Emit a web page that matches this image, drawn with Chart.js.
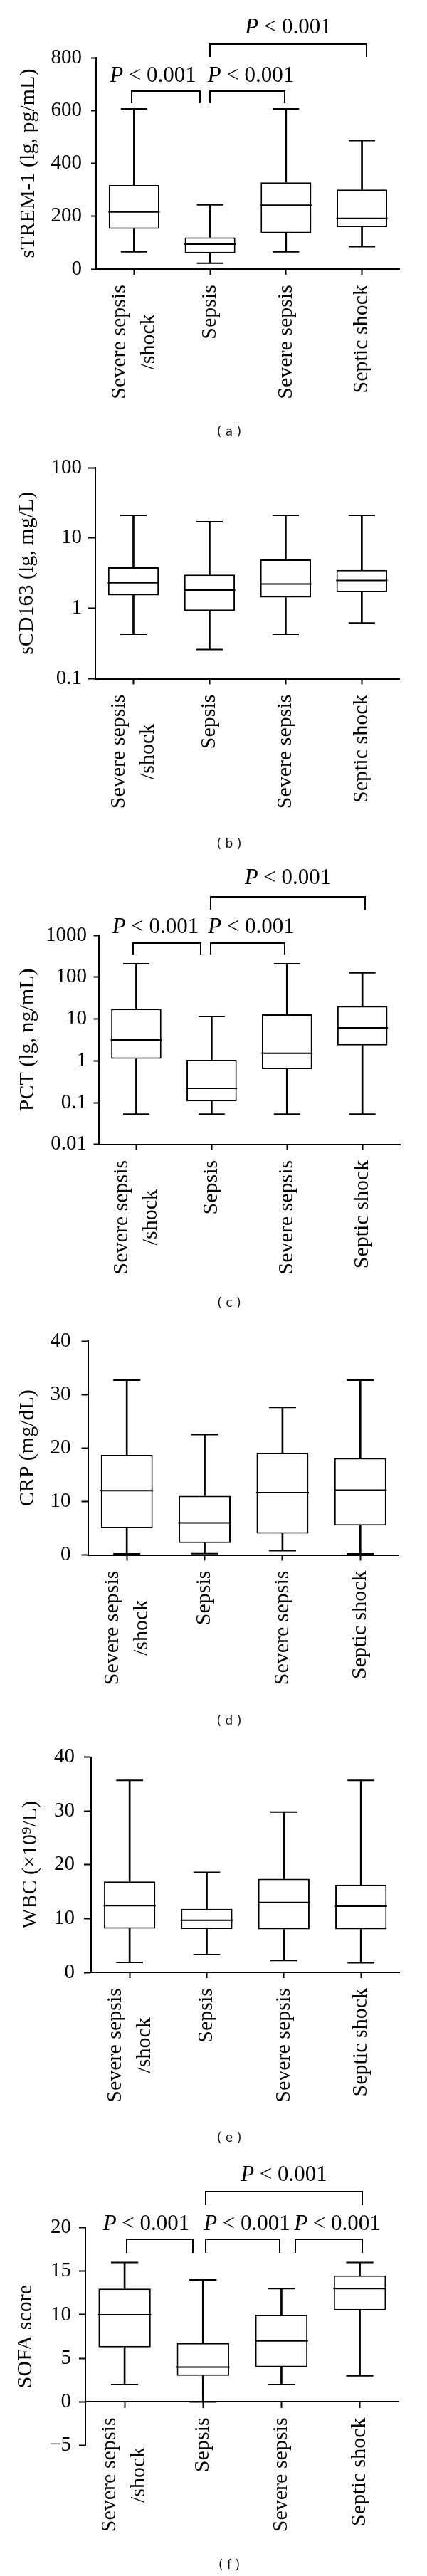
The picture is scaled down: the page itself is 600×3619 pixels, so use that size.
<!DOCTYPE html>
<html><head><meta charset="utf-8">
<script src="https://cdn.jsdelivr.net/npm/chart.js@4/dist/chart.umd.min.js"></script>
<style>
html,body{margin:0;padding:0;background:#fff;}
#page{position:relative;width:600px;height:3619px;overflow:hidden;background:#fff;}
.cap{position:absolute;left:0;text-align:center;font-family:"DejaVu Sans",sans-serif;font-size:17px;color:#111;line-height:20px;white-space:pre;}
</style></head><body><div id="page"></div>
<script>
// ---------------- DATA ----------------
const categories = [["Severe sepsis", "/shock"], "Sepsis", "Severe sepsis", "Septic shock"];
const pLabel = "P < 0.001";

// (a) sTREM-1
const stremMin    = [65, 22, 65, 85];
const stremQ1     = [152, 60, 136, 159];
const stremMedian = [216, 94, 242, 192];
const stremQ3     = [318, 120, 328, 301];
const stremMax    = [606, 243, 606, 486];
const stremTicks  = [0, 200, 400, 600, 800];
const stremPairs  = [[0, 1], [1, 2], [1, 3]];

// (b) sCD163
const cd163Min    = [0.43, 0.26, 0.43, 0.62];
const cd163Q1     = [1.53, 0.92, 1.42, 1.70];
const cd163Median = [2.31, 1.82, 2.22, 2.49];
const cd163Q3     = [3.83, 3.01, 4.94, 3.51];
const cd163Max    = [21, 17, 21, 21];
const cd163Ticks  = [0.1, 1, 10, 100];

// (c) PCT
const pctMin    = [0.053, 0.053, 0.053, 0.053];
const pctQ1     = [1.11, 0.107, 0.63, 2.33];
const pctMedian = [3.16, 0.22, 1.51, 6.15];
const pctQ3     = [17.5, 1.05, 12.9, 20.2];
const pctMax    = [209, 11.5, 209, 126];
const pctTicks  = [0.01, 0.1, 1, 10, 100, 1000];
const pctPairs  = [[0, 1], [1, 2], [1, 3]];

// (d) CRP
const crpMin    = [0.2, 0.24, 0.8, 0.2];
const crpQ1     = [5.0, 2.24, 4.0, 5.5];
const crpMedian = [12.0, 6.0, 11.65, 12.1];
const crpQ3     = [18.7, 11.06, 19.1, 18.1];
const crpMax    = [32.7, 22.5, 27.6, 32.7];
const crpTicks  = [0, 10, 20, 30, 40];

// (e) WBC
const wbcMin    = [1.85, 3.3, 2.2, 1.8];
const wbcQ1     = [8.15, 8.06, 8.0, 8.0];
const wbcMedian = [12.4, 9.7, 13.0, 12.3];
const wbcQ3     = [16.9, 11.8, 17.4, 16.3];
const wbcMax    = [35.7, 18.6, 29.8, 35.7];
const wbcTicks  = [0, 10, 20, 30, 40];

// (f) SOFA
const sofaMin    = [2, 0, 2, 3];
const sofaQ1     = [6.25, 3, 4, 10.5];
const sofaMedian = [10, 4, 7, 13];
const sofaQ3     = [13, 6.75, 10, 14.5];
const sofaMax    = [16, 14, 13, 16];
const sofaTicks  = [-5, 0, 5, 10, 15, 20];
const sofaPairs  = [[0, 1], [1, 2], [2, 3], [1, 3]];

// ---------------- LAYOUT / STYLE ----------------
const SERIF = '"Liberation Serif", "DejaVu Serif", serif';
const panels = [
  { caption: "( a )", capY: 606, title: "sTREM-1 (lg, pg/mL)", log: false, min: 0, max: 800, ticks: stremTicks,
    box: {min: stremMin, q1: stremQ1, med: stremMedian, q3: stremQ3, max: stremMax},
    T: 0, H: 600, L: 135, R: 580, top: 81, bottom: 378, tickLen: 7, tickPad: 13, titlePad: 22, xAxisAt: null,
    pairs: stremPairs,
    bstyle: [ {dx: [-3, -14], y: 47, leg: 64, ty: 26, tdx: -18},
              {dx: [0, -2], y: 47, leg: 64, ty: 26, tdx: 5},
              {dx: [0, 6], y: -19, leg: -1, ty: -42, tdx: 0} ] },
  { caption: "( b )", capY: 1185, title: "sCD163 (lg, mg/L)", log: true, min: 0.1, max: 100, ticks: cd163Ticks,
    box: {min: cd163Min, q1: cd163Q1, med: cd163Median, q3: cd163Q3, max: cd163Max},
    T: 600, H: 590, L: 134, R: 580, top: 657, bottom: 953.5, tickLen: 10, tickPad: 9, titlePad: 20, xAxisAt: null,
    pairs: [], bstyle: [] },
  { caption: "( c )", capY: 1830, title: "PCT (lg, ng/mL)", log: true, min: 0.01, max: 1000, ticks: pctTicks,
    box: {min: pctMin, q1: pctQ1, med: pctMedian, q3: pctQ3, max: pctMax},
    T: 1200, H: 610, L: 138.5, R: 581, top: 1314, bottom: 1607.75, tickLen: 7, tickPad: 9.5, titlePad: 21.5, xAxisAt: null,
    pairs: pctPairs,
    bstyle: [ {dx: [-4, -15], y: 10.5, leg: 27, ty: -11, tdx: -16},
              {dx: [-1.5, -3.5], y: 10.5, leg: 27, ty: -11, tdx: 5},
              {dx: [-1, 4], y: -54, leg: -36, ty: -80, tdx: 0} ] },
  { caption: "( d )", capY: 2417, title: "CRP (mg/dL)", log: false, min: 0, max: 40, ticks: crpTicks,
    box: {min: crpMin, q1: crpQ1, med: crpMedian, q3: crpQ3, max: crpMax},
    T: 1845, H: 570, L: 123.5, R: 580, top: 1880.5, bottom: 2184.5, tickLen: 9, tickPad: 15, titlePad: 21, xAxisAt: null,
    pairs: [], bstyle: [] },
  { caption: "( e )", capY: 3003, title: "WBC (\u00d710\u2079/L)", log: false, min: 0, max: 40, ticks: wbcTicks,
    box: {min: wbcMin, q1: wbcQ1, med: wbcMedian, q3: wbcQ3, max: wbcMax},
    T: 2430, H: 570, L: 128, R: 580, top: 2468.3, bottom: 2771, tickLen: 10, tickPad: 13, titlePad: 25, xAxisAt: null,
    pairs: [], bstyle: [] },
  { caption: "( f )", capY: 3603, title: "SOFA score", log: false, min: -5, max: 20, ticks: sofaTicks,
    box: {min: sofaMin, q1: sofaQ1, med: sofaMedian, q3: sofaQ3, max: sofaMax},
    T: 3015, H: 604, L: 120, R: 580, top: 3129.4, bottom: 3435.7, tickLen: 9, tickPad: 11, titlePad: 18.5, xAxisAt: 0,
    pairs: sofaPairs,
    bstyle: [ {dx: [3, -14], y: 16.6, leg: 35.6, ty: -4.4, tdx: -19},
              {dx: [3.5, -2], y: 16.6, leg: 35.6, ty: -4.4, tdx: 6},
              {dx: [20, 3], y: 16.6, leg: 35.6, ty: -4.4, tdx: 12},
              {dx: [4, 3], y: -50, leg: -31, ty: -74, tdx: 0} ] }
];
const X_TICK_H = 10, CAT_FONT = 30, CAT_GAP = 22, CAT_LINE = 41, P_FONT = 31;

Chart.defaults.font.family = SERIF;
Chart.defaults.color = '#000';

function drawP(ctx, cx, cy, text) {
  const first = text.charAt(0), rest = text.slice(1);
  ctx.font = `italic ${P_FONT}px ${SERIF}`;
  const w1 = ctx.measureText(first).width;
  ctx.font = `${P_FONT}px ${SERIF}`;
  const w2 = ctx.measureText(rest).width;
  let x = cx - (w1 + w2) / 2;
  ctx.textAlign = 'left'; ctx.textBaseline = 'middle';
  ctx.font = `italic ${P_FONT}px ${SERIF}`;
  ctx.fillText(first, x, cy);
  ctx.font = `${P_FONT}px ${SERIF}`;
  ctx.fillText(rest, x + w1, cy);
}

const annotate = {
  id: 'annotate',
  afterDraw(chart) {
    const p = chart.options.plugins.annotate.panel;
    const ctx = chart.ctx, xs = chart.scales.x, ys = chart.scales.y, ca = chart.chartArea;
    ctx.save();
    ctx.fillStyle = '#000'; ctx.strokeStyle = '#000'; ctx.lineWidth = 2;
    ctx.lineJoin = 'miter'; ctx.lineCap = 'butt';
    const axisY = p.xAxisAt === null ? ca.bottom : ys.getPixelForValue(p.xAxisAt);
    ctx.font = `${CAT_FONT}px ${SERIF}`;
    ctx.textAlign = 'center'; ctx.textBaseline = 'middle';
    categories.forEach((lab, i) => {
      const lines = Array.isArray(lab) ? lab : [lab];
      const maxW = Math.max(...lines.map(l => ctx.measureText(l).width));
      const x = xs.getPixelForValue(i);
      ctx.save();
      ctx.translate(x, axisY + CAT_GAP + maxW / 2);
      ctx.rotate(-Math.PI / 2);
      lines.forEach((l, k) => ctx.fillText(l, 0, (k - (lines.length - 1) / 2) * CAT_LINE));
      ctx.restore();
    });
    p.pairs.forEach((pair, k) => {
      const b = p.bstyle[k];
      const x1 = Math.round(xs.getPixelForValue(pair[0]) + b.dx[0]);
      const x2 = Math.round(xs.getPixelForValue(pair[1]) + b.dx[1]);
      const yh = Math.round(ca.top + b.y), yl = Math.round(ca.top + b.leg);
      ctx.beginPath();
      ctx.moveTo(x1, yl); ctx.lineTo(x1, yh); ctx.lineTo(x2, yh); ctx.lineTo(x2, yl);
      ctx.stroke();
      drawP(ctx, (x1 + x2) / 2 + b.tdx, ca.top + b.ty, pLabel);
    });
    ctx.restore();
  }
};

function makeDatasets(d, capR, medR) {
  const lower = d.q1.map((q, i) => [q, d.med[i]]);
  const upper = d.med.map((m, i) => [m, d.q3[i]]);
  const wUp = d.q3.map((q, i) => [q, d.max[i]]);
  const wDn = d.min.map((m, i) => [m, d.q1[i]]);
  const boxBase = {type: 'bar', backgroundColor: '#fff', borderColor: '#000', borderSkipped: false,
                   grouped: false, barPercentage: 2 / 3, categoryPercentage: 1};
  const whisk = {type: 'bar', backgroundColor: '#000', borderWidth: 0, barThickness: 2, grouped: false};
  const cap = {type: 'line', showLine: false, pointStyle: 'line', pointRadius: capR, pointHoverRadius: capR,
               borderColor: '#000', pointBorderColor: '#000', borderWidth: 2, pointBorderWidth: 2};
  return [
    Object.assign({}, cap, {data: d.med, pointRadius: medR, pointHoverRadius: medR}),
    Object.assign({data: lower, borderWidth: {left: 2, right: 2, top: 0, bottom: 2}}, boxBase),
    Object.assign({data: upper, borderWidth: {left: 2, right: 2, top: 2, bottom: 0}}, boxBase),
    Object.assign({data: wUp}, whisk),
    Object.assign({data: wDn}, whisk),
    Object.assign({data: d.max}, cap),
    Object.assign({data: d.min}, cap)
  ];
}

const page = document.getElementById('page');
panels.forEach(p => {
  const c = document.createElement('canvas');
  c.width = 600; c.height = p.H;
  c.style.cssText = `position:absolute;left:0;top:${p.T}px;width:600px;height:${p.H}px;`;
  page.appendChild(c);
  const cap = document.createElement('div');
  cap.className = 'cap';
  cap.style.top = (p.capY - 10) + 'px';
  cap.style.width = '644px';
  cap.textContent = p.caption;
  page.appendChild(cap);

  const catW = (p.R - p.L) / 4;
  const capR = catW / 6;
  const medR = catW / 3 - 1;
  const padBottom = p.xAxisAt === null ? (p.T + p.H) - p.bottom - X_TICK_H : (p.T + p.H) - p.bottom;
  new Chart(c, {
    type: 'bar',
    data: { labels: categories.map(l => Array.isArray(l) ? l.join(' ') : l), datasets: makeDatasets(p.box, capR, medR) },
    options: {
      responsive: false, animation: false, devicePixelRatio: 1, events: [],
      layout: { padding: { left: 0, right: 600 - p.R, top: p.top - p.T, bottom: padBottom } },
      plugins: { legend: {display: false}, tooltip: {enabled: false}, annotate: {panel: p} },
      scales: {
        x: {
          type: 'category', position: p.xAxisAt === null ? 'bottom' : {y: p.xAxisAt}, offset: true,
          grid: { display: true, offset: false, drawOnChartArea: false, drawTicks: true, tickLength: 8,
                  tickWidth: 2, tickColor: '#000', color: '#000' },
          border: { display: true, color: '#000', width: 2 },
          ticks: { display: false },
          afterFit: s => { s.height = X_TICK_H; }
        },
        y: {
          type: p.log ? 'logarithmic' : 'linear', min: p.min, max: p.max,
          afterBuildTicks: s => { s.ticks = p.ticks.map(v => ({value: v})); },
          ticks: { callback: v => String(v).replace('-', '\u2212'), font: {size: 29}, padding: p.tickPad,
                   color: '#000', autoSkip: false },
          grid: { display: true, drawOnChartArea: false, drawTicks: true, tickLength: p.tickLen,
                  tickWidth: 2, tickColor: '#000', color: '#000' },
          border: { display: true, color: '#000', width: 2 },
          title: { display: true, text: p.title, font: {size: 30, lineHeight: 1.2},
                   padding: {top: p.titlePad, bottom: 0}, color: '#000' },
          afterFit: s => { s.width = p.L; }
        }
      }
    },
    plugins: [annotate]
  });
});
</script>
</body></html>
